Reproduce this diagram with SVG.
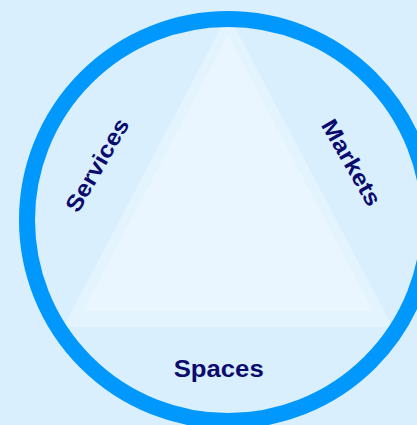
<svg xmlns="http://www.w3.org/2000/svg" width="417" height="425" viewBox="0 0 417 425">
<style>
.lbl{font-family:"Liberation Sans",Arial,sans-serif;font-weight:bold;font-size:23px;fill:#0b0b6e;text-anchor:middle}
</style>
<rect width="417" height="425" fill="#d9effe"/>
<g id="triangle">
<polygon points="228,14 392.5,327 63.5,327" fill="#e4f4fe"/>
<polygon points="228,35 373,311 83,311" fill="#e9f6ff"/>
</g>
<g id="ring">
<circle cx="228" cy="220" r="201" fill="none" stroke="#0098fd" stroke-width="16"/>
</g>
<g id="services">
<text class="lbl" transform="translate(97,165) rotate(-60)" y="8" textLength="104" lengthAdjust="spacingAndGlyphs">Services</text>
</g>
<g id="markets">
<text class="lbl" transform="translate(351.5,162.5) rotate(60)" y="8" textLength="96" lengthAdjust="spacingAndGlyphs">Markets</text>
</g>
<g id="spaces">
<text class="lbl" x="218.7" y="377" textLength="90" lengthAdjust="spacingAndGlyphs">Spaces</text>
</g>
<g id="connectors"/>
</svg>
